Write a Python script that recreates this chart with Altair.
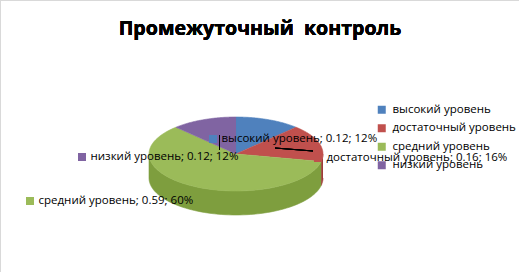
import altair as alt
import pandas as pd
import numpy as np

# ---- data ----
categories = ["высокий уровень", "достаточный уровень", "средний уровень", "низкий уровень"]
values = [0.12, 0.16, 0.59, 0.12]
percents = [12, 16, 60, 12]
title_text = "Промежуточный\u00a0 контроль"

# ---- styles / layout ----
colors = ["#4F81BD", "#C0504D", "#9BBB59", "#8064A2"]
side_colors = ["#3E6A9E", "#9E3B39", "#7E9E3E", "#66508A"]
W, H = 519, 272
CX, CY, RX, RY, DEPTH = 236, 154, 87, 37, 24
STEPS = 72
FONT = "Open Sans"
LFS = 11.5
# data label anchor (marker centre) for each category
label_pos = {
    "высокий уровень": (213, 139),
    "достаточный уровень": (318, 158),
    "средний уровень": (30, 201),
    "низкий уровень": (82, 157),
}

total = sum(values)
fracs = np.array(values) / total
ends = np.cumsum(fracs) * 360
starts = ends - fracs * 360


def pt(t):
    r = np.radians(t)
    return CX + RX * np.sin(r), CY - RY * np.cos(r)


top_rows, side_rows = [], []
for k, (cat, a0, a1) in enumerate(zip(categories, starts, ends)):
    top_rows.append(dict(cat=cat, i=0, x=CX, y=CY, col=colors[k]))
    for j, t in enumerate(np.linspace(a0, a1, STEPS)):
        x, y = pt(t)
        top_rows.append(dict(cat=cat, i=j + 1, x=x, y=y, col=colors[k]))
    lo, hi = max(a0, 90), min(a1, 270)
    if hi > lo:
        pts = [pt(t) for t in np.linspace(lo, hi, STEPS)]
        poly = pts + [(x, y + DEPTH) for x, y in pts[::-1]]
        for j, (x, y) in enumerate(poly):
            side_rows.append(dict(cat=cat, i=j, x=x, y=y, col=side_colors[k]))

top_df = pd.DataFrame(top_rows)
side_df = pd.DataFrame(side_rows)

lab_df = pd.DataFrame({
    "cat": categories,
    "label": [f"{c}; {v:.2f}; {p}%" for c, v, p in zip(categories, values, percents)],
    "mx": [label_pos[c][0] for c in categories],
    "my": [label_pos[c][1] for c in categories],
})
lab_df["tx"] = lab_df["mx"] + 8.5


def X(f):
    return alt.X(f"{f}:Q", scale=alt.Scale(domain=[0, W], nice=False, zero=False), axis=None)


def Y(f):
    return alt.Y(f"{f}:Q", scale=alt.Scale(domain=[0, H], nice=False, zero=False, reverse=True), axis=None)


side = alt.Chart(side_df).mark_line(strokeWidth=0.6, interpolate="linear").encode(
    x=X("x"), y=Y("y"),
    fill=alt.Fill("col:N", scale=None),
    stroke=alt.Stroke("col:N", scale=None),
    detail="cat:N",
    order=alt.Order("i:Q"),
)

top = alt.Chart(top_df).mark_line(strokeWidth=0.6, interpolate="linear").encode(
    x=X("x"), y=Y("y"),
    fill=alt.Fill("col:N", scale=None),
    stroke=alt.Stroke("col:N", scale=None),
    detail="cat:N",
    order=alt.Order("i:Q"),
)

markers = alt.Chart(lab_df).mark_square(size=64, opacity=1).encode(
    x=X("mx"), y=Y("my"),
    fill=alt.Fill(
        "cat:N",
        scale=alt.Scale(domain=categories, range=colors),
        legend=alt.Legend(
            title=None, orient="none", legendX=376, legendY=104,
            symbolType="square", symbolSize=64, symbolStrokeWidth=0,
            labelFont=FONT, labelFontSize=LFS, labelColor="#000000",
            labelOffset=5, rowPadding=5.5, padding=0, labelLimit=300,
        ),
    ),
)

texts = alt.Chart(lab_df).mark_text(
    align="left", baseline="middle", font=FONT, fontSize=LFS, color="#000000"
).encode(x=X("tx"), y=Y("my"), text="label:N")

lead1 = alt.Chart(lab_df).mark_rule(color="#000000", strokeWidth=1).encode(
    x=alt.value(219.5), x2=alt.value(219.5), y=alt.value(135), y2=alt.value(150)
)
lead2 = alt.Chart(lab_df).mark_rule(color="#000000", strokeWidth=1).encode(
    x=alt.value(275), x2=alt.value(313), y=alt.value(148), y2=alt.value(151)
)

title = alt.Chart(lab_df).mark_text(
    align="center", baseline="middle", font=FONT, fontSize=19.6, fontWeight="bold", color="#000000"
).encode(x=alt.value(260), y=alt.value(29), text=alt.value(title_text))

border_top = alt.Chart(lab_df).mark_rule(color="#D9D9D9", strokeWidth=1).encode(
    x=alt.value(0), x2=alt.value(W), y=alt.value(0.5), y2=alt.value(0.5)
)
border_left = alt.Chart(lab_df).mark_rule(color="#D9D9D9", strokeWidth=1).encode(
    x=alt.value(0.5), x2=alt.value(0.5), y=alt.value(0), y2=alt.value(H)
)

chart = alt.layer(
    side, top, lead1, lead2, markers, texts, title, border_top, border_left
).properties(
    width=W, height=H, padding=0, autosize=alt.AutoSizeParams(type="none"),
    background="#FFFFFF",
).configure_view(stroke=None).configure(font=FONT)

chart.save("out.html", embed_options={"renderer": "svg", "actions": False})
